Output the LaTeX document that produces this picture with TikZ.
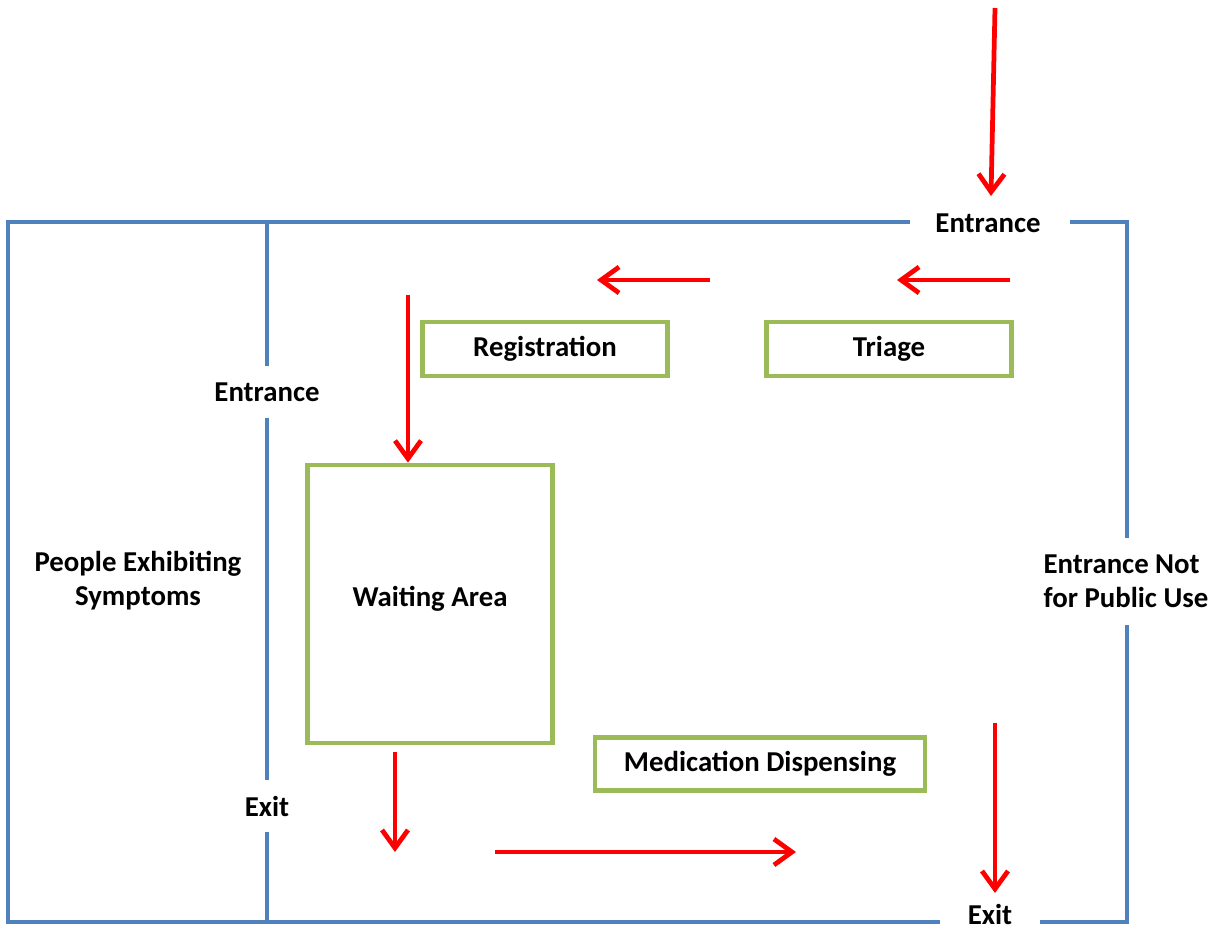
\documentclass[tikz,border=0pt]{standalone}
\usepackage{fontspec}
\setmainfont{Carlito}
\usetikzlibrary{arrows.meta, positioning}

\definecolor{wallblue}{HTML}{4F81BD}
\definecolor{boxgreen}{HTML}{9BBB59}
\definecolor{flowred}{HTML}{FF0000}

\tikzstyle{wall} = [draw=wallblue, line width=2.7pt]
\tikzstyle{station} = [draw=boxgreen, line width=2.7pt, fill=white, rectangle, font=\bfseries]
\tikzstyle{flow} = [draw=flowred, line width=2.7pt, -{Straight Barb[length=3.6mm, width=5.2mm, line width=2.7pt]}]
\tikzstyle{sign} = [font=\bfseries, inner sep=0pt]

\begin{document}
\begin{tikzpicture}[x=0.02cm, y=-0.02cm]
  \useasboundingbox (0,0) rectangle (1217,930);
  \fontsize{16.4}{19.3}\selectfont

  % outer walls with openings
  \draw[wall] (910,222) -- (8,222) -- (8,922) -- (940,922);
  \draw[wall] (1070,222) -- (1127,222) -- (1127,538);
  \draw[wall] (1127,625) -- (1127,922) -- (1040,922);
  % inner wall
  \draw[wall] (267,222) -- (267,366);
  \draw[wall] (267,418) -- (267,780);
  \draw[wall] (267,832) -- (267,922);

  % labels at the openings
  \node[sign] (topin) at (988,223) {Entrance};
  \node[sign] (sidein) at (267,392) {Entrance};
  \node[sign] (sideout) at (267,806) {Exit};
  \node[sign] (botout) at (990,914) {Exit};
  \node[sign, align=center] (people) at (138,581) {People Exhibiting\\Symptoms};
  \node[sign, align=left] (staff) at (1126,581) {Entrance Not\\for Public Use};

  % stations
  \node[station, minimum width=4.9cm, minimum height=1.08cm] (reg) at (545,349) {Registration};
  \node[station, minimum width=4.9cm, minimum height=1.08cm] (triage) at (889,349) {Triage};
  \node[station, minimum width=4.9cm, minimum height=5.56cm, text depth=0.32cm] (wait) at (430,604) {Waiting Area};
  \node[station, minimum width=6.6cm, minimum height=1.06cm] (meds) at (760,764) {Medication Dispensing};

  % flow of people
  \coordinate (f1) at (995,8);
  \coordinate (f2) at (991,196);
  \coordinate (f3) at (1010,280);
  \coordinate (f4) at (897,280);
  \coordinate (f5) at (710,280);
  \coordinate (f6) at (597,280);
  \coordinate (f7) at (408,295);
  \coordinate (f8) at (395,752);
  \coordinate (f9) at (395,852);
  \coordinate (f10) at (495,852);
  \coordinate (f11) at (796,852);
  \coordinate (f12) at (995,723);
  \coordinate (f13) at (995,893);
  \draw[flow] (f1) -- (f2);
  \draw[flow] (f3) -- (f4);
  \draw[flow] (f5) -- (f6);
  \draw[flow] (f7) -- (wait.north -| f7);
  \draw[flow] (f8) -- (f9);
  \draw[flow] (f10) -- (f11);
  \draw[flow] (f12) -- (f13);
\end{tikzpicture}
\end{document}
